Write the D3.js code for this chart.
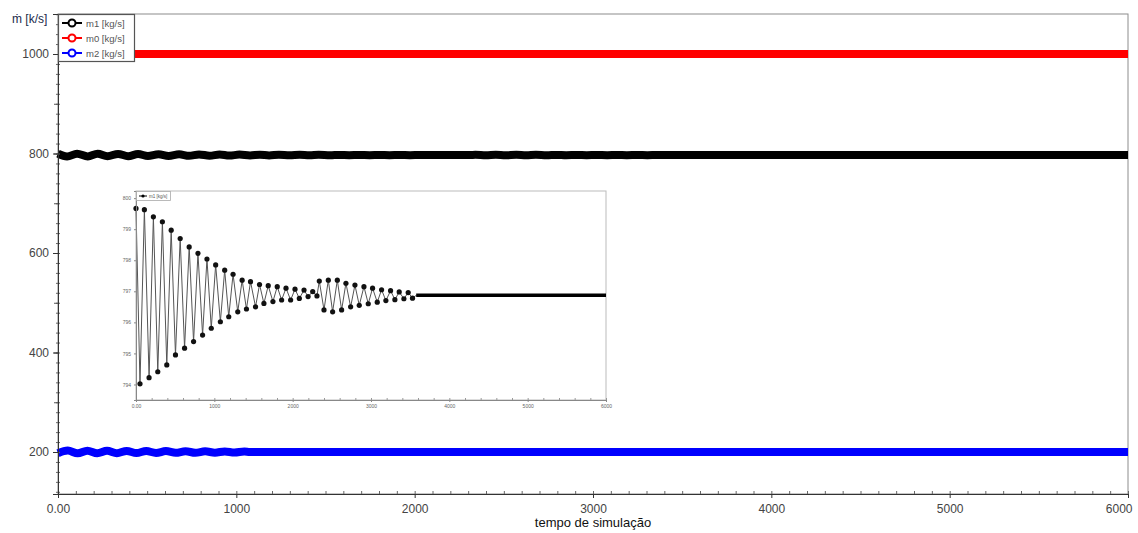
<!DOCTYPE html>
<html>
<head>
<meta charset="utf-8">
<script src="https://cdn.jsdelivr.net/npm/d3@7"></script>
<style>
  body { margin: 0; background: #fff; }
  svg { font-family: "Liberation Sans", Arial, sans-serif; }
</style>
</head>
<body>
<svg width="1138" height="533"></svg>
<script>
// series (time in s, flow in kg/s)
const m0Time = [0, 6000];
const m0Val = [1000, 1000];

// m1: extrema of the damped oscillation, then settled value
const m1Time = [0, 51, 107, 167, 222, 278, 337, 393, 449, 504, 564, 620, 679, 735, 791, 850,
  906, 961, 1017, 1077, 1132, 1184, 1239, 1299, 1355, 1410, 1462, 1526, 1577, 1633, 1688, 1748,
  1803, 1859, 1915, 1974, 2030, 2085, 2145, 2197, 2256, 2310, 2340, 2400, 2455, 2510, 2570, 2625,
  2680, 2740, 2795, 2850, 2910, 2965, 3020, 3080, 3135, 3190, 3250, 3305, 3360, 3420, 3475, 3530,
  3577, 6000];
const m1Val = [799.67, 794.02, 799.63, 794.22, 799.40, 794.41, 799.24, 794.63, 798.97, 794.95,
  798.70, 795.17, 798.43, 795.38, 798.22, 795.59, 798.04, 795.81, 797.85, 796.02, 797.68, 796.18,
  797.55, 796.34, 797.36, 796.43, 797.31, 796.50, 797.22, 796.61, 797.18, 796.67, 797.15, 796.72,
  797.10, 796.72, 797.07, 796.77, 797.04, 796.83, 796.99, 796.85, 797.33, 796.40, 797.36, 796.34,
  797.36, 796.40, 797.26, 796.50, 797.20, 796.55, 797.15, 796.60, 797.10, 796.65, 797.05, 796.70,
  797.02, 796.73, 796.98, 796.76, 796.96, 796.78, 796.87, 796.87];

const m2Time = [0, 55, 110, 165, 220, 275, 330, 385, 440, 495, 550, 605, 660, 715, 770, 825,
  880, 935, 990, 1045, 1075, 6000];
const m2Val = [197.5, 202.8, 197.3, 202.6, 197.5, 202.4, 197.7, 202.2, 197.9, 202.0, 198.1,
  201.8, 198.3, 201.6, 198.5, 201.4, 198.7, 201.2, 198.9, 201.0, 200.0, 200.0];

const xTicks = [0, 1000, 2000, 3000, 4000, 5000, 6000];
const yTicks = [200, 400, 600, 800, 1000];
const insetYTicks = [800, 799, 798, 797, 796, 795, 794];
const legendNames = ["m1 [kg/s]", "m0 [kg/s]", "m2 [kg/s]"];
const legendColors = ["#000000", "#ff0000", "#0000ff"];

const zip = (t, v) => t.map((d, i) => ({t: d, v: v[i]}));
const m0 = zip(m0Time, m0Val), m1 = zip(m1Time, m1Val), m2 = zip(m2Time, m2Val);

const svg = d3.select("svg");
const fmtX = d => d === 0 ? "0.00" : String(d);

// ---------- main chart ----------
const x = d3.scaleLinear().domain([0, 6000]).range([58, 1128]);
const y = d3.scaleLinear().domain([115.6, 1080.4]).range([494, 14]);

// frame
svg.append("rect").attr("x", 58).attr("y", 14).attr("width", 1070).attr("height", 480)
  .attr("fill", "none").attr("stroke", "#8c8c8c").attr("stroke-width", 1);

const line = d3.line().x(d => x(d.t)).y(d => y(d.v)).curve(d3.curveMonotoneX);

svg.append("path").datum(m0).attr("d", line).attr("fill", "none")
  .attr("stroke", "#ff0000").attr("stroke-width", 8);
svg.append("path").datum(m1).attr("d", line).attr("fill", "none")
  .attr("stroke", "#000").attr("stroke-width", 8).attr("stroke-linejoin", "round");
svg.append("path").datum(m2).attr("d", line).attr("fill", "none")
  .attr("stroke", "#0000ff").attr("stroke-width", 8).attr("stroke-linejoin", "round");

// x axis
const xAxis = svg.append("g").attr("transform", "translate(0,494)");
xAxis.call(d3.axisBottom(x).tickValues(d3.range(0, 6001, 100)).tickSize(-3).tickFormat(""))
  .call(g => g.select(".domain").remove())
  .call(g => g.selectAll("line").attr("stroke", "#666"));
xAxis.append("g").call(d3.axisBottom(x).tickValues(xTicks).tickSize(4).tickFormat(fmtX).tickPadding(6))
  .call(g => g.select(".domain").attr("stroke", "#333"))
  .call(g => g.selectAll("line").attr("stroke", "#333"))
  .call(g => g.selectAll("text").attr("font-size", 12).attr("fill", "#444").attr("font-family", "Liberation Sans, Arial"))
  .call(g => g.selectAll("text").filter(d => d === 6000).attr("text-anchor", "end").attr("dx", 4));

// y axis
const yAxis = svg.append("g").attr("transform", "translate(58,0)");
yAxis.call(d3.axisLeft(y).tickValues(d3.range(120, 1081, 20)).tickSize(2).tickFormat(""))
  .call(g => g.select(".domain").remove())
  .call(g => g.selectAll("line").attr("stroke", "#666").attr("x2", 2).attr("x1", -2));
yAxis.append("g").call(d3.axisLeft(y).tickValues(d3.range(200, 1001, 100)).tickSize(4).tickFormat(""))
  .call(g => g.select(".domain").remove())
  .call(g => g.selectAll("line").attr("stroke", "#555"));
yAxis.append("g").call(d3.axisLeft(y).tickValues(yTicks).tickSize(5).tickPadding(4).tickFormat(d3.format("d")))
  .call(g => g.select(".domain").attr("stroke", "#333"))
  .call(g => g.selectAll("line").attr("stroke", "#333"))
  .call(g => g.selectAll("text").attr("font-size", 12).attr("fill", "#444").attr("font-family", "Liberation Sans, Arial"));

// titles
svg.append("text").attr("x", 12).attr("y", 23).attr("font-size", 12).attr("fill", "#1a2a4a")
  .text("ṁ [k/s]");
svg.append("text").attr("x", 593).attr("y", 527).attr("text-anchor", "middle")
  .attr("font-size", 13).attr("fill", "#111").text("tempo de simulação");

// legend
const lg = svg.append("g");
lg.append("rect").attr("x", 58.5).attr("y", 14.5).attr("width", 76).attr("height", 47)
  .attr("fill", "#fff").attr("stroke", "#555").attr("stroke-width", 1.2);
legendNames.forEach((n, i) => {
  const yy = 23 + i * 15;
  lg.append("line").attr("x1", 62).attr("x2", 82).attr("y1", yy).attr("y2", yy)
    .attr("stroke", legendColors[i]).attr("stroke-width", 2);
  lg.append("circle").attr("cx", 72).attr("cy", yy).attr("r", 3.5)
    .attr("fill", "#fff").attr("stroke", legendColors[i]).attr("stroke-width", 2);
  lg.append("text").attr("x", 86).attr("y", yy + 3.5).attr("font-size", 9.5).attr("fill", "#555").text(n);
});

// ---------- inset (zoom on m1) ----------
const ix = d3.scaleLinear().domain([0, 6000]).range([136, 606]);
const iy = d3.scaleLinear().domain([793.5, 800.23]).range([400, 191]);

const inset = svg.append("g");
inset.append("rect").attr("x", 136).attr("y", 191).attr("width", 470).attr("height", 209)
  .attr("fill", "#fff").attr("stroke", "#bbb").attr("stroke-width", 1);

const iline = d3.line().x(d => ix(d.t)).y(d => iy(d.v));
inset.append("path").datum(m1).attr("d", iline).attr("fill", "none")
  .attr("stroke", "#555").attr("stroke-width", 1);
inset.append("path").datum(m1.filter(d => d.t >= 3577)).attr("d", iline).attr("fill", "none")
  .attr("stroke", "#000").attr("stroke-width", 3.5);
inset.selectAll("circle.pt").data(m1.filter(d => d.t < 3577)).enter().append("circle")
  .attr("class", "pt").attr("cx", d => ix(d.t)).attr("cy", d => iy(d.v)).attr("r", 2.6)
  .attr("fill", "#111");

inset.append("g").attr("transform", "translate(0,400)")
  .call(d3.axisBottom(ix).tickValues(d3.range(0, 6001, 200)).tickSize(-2).tickFormat(""))
  .call(g => g.select(".domain").attr("stroke", "#888"))
  .call(g => g.selectAll("line").attr("stroke", "#999"));
inset.append("g").attr("transform", "translate(0,400)")
  .call(d3.axisBottom(ix).tickValues(xTicks).tickSize(2).tickPadding(2).tickFormat(fmtX))
  .call(g => g.select(".domain").remove())
  .call(g => g.selectAll("line").attr("stroke", "#888"))
  .call(g => g.selectAll("text").attr("font-size", 5).attr("fill", "#666"));
inset.append("g").attr("transform", "translate(136,0)")
  .call(d3.axisLeft(iy).tickValues(insetYTicks).tickSize(2).tickPadding(3).tickFormat(d3.format("d")))
  .call(g => g.select(".domain").attr("stroke", "#888"))
  .call(g => g.selectAll("line").attr("stroke", "#888"))
  .call(g => g.selectAll("text").attr("font-size", 5).attr("fill", "#666"));

// inset legend
inset.append("rect").attr("x", 136.5).attr("y", 191.5).attr("width", 34).attr("height", 9)
  .attr("fill", "#fff").attr("stroke", "#aaa").attr("stroke-width", 0.8);
inset.append("line").attr("x1", 139).attr("x2", 147).attr("y1", 196).attr("y2", 196)
  .attr("stroke", "#000").attr("stroke-width", 1);
inset.append("circle").attr("cx", 143).attr("cy", 196).attr("r", 1.6).attr("fill", "#000");
inset.append("text").attr("x", 149).attr("y", 198).attr("font-size", 4.5).attr("fill", "#555")
  .text(legendNames[0]);
</script>
</body>
</html>
